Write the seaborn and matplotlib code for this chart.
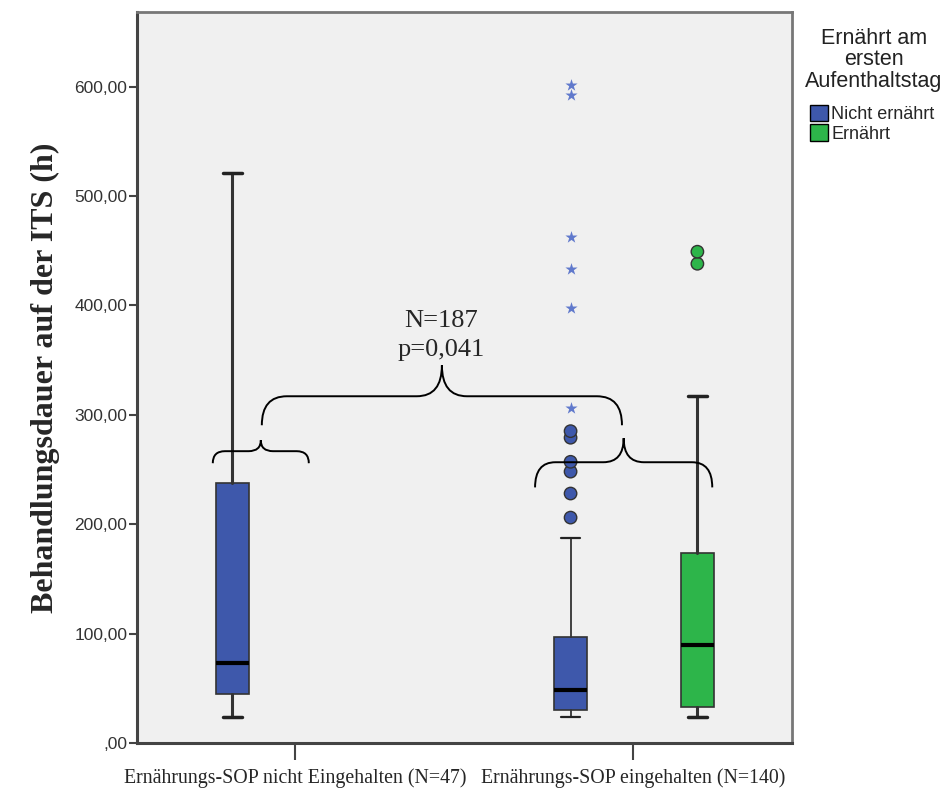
import matplotlib
matplotlib.use("Agg")
import numpy as np
import pandas as pd
import matplotlib.pyplot as plt
import seaborn as sns
from matplotlib.path import Path
from matplotlib.patches import PathPatch, Patch

# ----------------------------
# Data
# ----------------------------
groups = ["Ernährungs-SOP nicht Eingehalten (N=47)", "Ernährungs-SOP eingehalten (N=140)"]
hue_levels = ["Nicht ernährt", "Ernährt"]
legend_title = "Ernährt am\nersten\nAufenthaltstag"

# one entry per drawn box: group index, hue
box_group = [0, 1, 1]
box_hue = ["Nicht ernährt", "Nicht ernährt", "Ernährt"]
whislo = [24.0, 24.0, 24.0]
q1 = [44.5, 30.0, 33.0]
med = [73.0, 48.5, 89.5]
q3 = [237.5, 96.5, 173.5]
whishi = [521.0, 187.0, 317.0]

# outliers (circles) and extremes (stars)
out_group = [1, 1, 1, 1, 1, 1, 1, 1]
out_hue = ["Nicht ernährt"] * 6 + ["Ernährt"] * 2
out_vals = [206, 228, 248, 257, 279, 285, 438, 449]

ext_group = [1, 1, 1, 1, 1, 1]
ext_vals = [306, 398, 433, 462, 592, 601]

y_ticks = [0, 100, 200, 300, 400, 500, 600]
y_ticklabels = [",00", "100,00", "200,00", "300,00", "400,00", "500,00", "600,00"]

palette = {"Nicht ernährt": "#3e58ab", "Ernährt": "#2db54a"}
hue_offset = {"Nicht ernährt": -0.185, "Ernährt": 0.19}

# ----------------------------
# Style
# ----------------------------
sns.set_style("white", {"axes.facecolor": "#f0f0f0"})
plt.rcParams["font.family"] = ["Liberation Sans", "DejaVu Sans"]

fig = plt.figure(figsize=(9.47, 7.91), dpi=100)
ax = fig.add_axes([0.1447, 0.0607, 0.6917, 0.924])

# boxes
for i in range(len(box_group)):
    pos = box_group[i] + hue_offset[box_hue[i]]
    stats = [dict(whislo=whislo[i], q1=q1[i], med=med[i], q3=q3[i], whishi=whishi[i], fliers=[])]
    thin = box_group[i] == 1 and box_hue[i] == "Nicht ernährt"
    ax.bxp(stats, positions=[pos], widths=0.097, capwidths=0.055, patch_artist=True,
           boxprops=dict(facecolor=palette[box_hue[i]], edgecolor="#333333", linewidth=1.2),
           medianprops=dict(color="black", linewidth=3),
           whiskerprops=dict(color="#333333", linewidth=1.3 if thin else 2.2),
           capprops=dict(color="#222222", linewidth=1.6 if thin else 2.5),
           manage_ticks=False, zorder=3)

# outliers
out_df = pd.DataFrame({
    "x": [g + hue_offset[h] for g, h in zip(out_group, out_hue)],
    "y": out_vals,
    "hue": out_hue,
})
sns.scatterplot(data=out_df, x="x", y="y", hue="hue", palette=palette, s=80,
                edgecolor="#333333", linewidth=1.0, legend=False, ax=ax, zorder=4)

ext_df = pd.DataFrame({"x": [g + hue_offset["Nicht ernährt"] for g in ext_group], "y": ext_vals})
sns.scatterplot(data=ext_df, x="x", y="y", marker="*", color="#6079cc", s=85,
                linewidth=0, legend=False, ax=ax, zorder=4)


# curly braces
def brace(ax, x0, x1, y, drop, tip, r):
    xm = (x0 + x1) / 2
    verts = [(x0, y - drop), (x0, y), (x0 + r, y),
             (xm - r, y),
             (xm, y), (xm, y + tip),
             (xm, y), (xm + r, y),
             (x1 - r, y),
             (x1, y), (x1, y - drop)]
    codes = [Path.MOVETO, Path.CURVE3, Path.CURVE3,
             Path.LINETO,
             Path.CURVE3, Path.CURVE3,
             Path.CURVE3, Path.CURVE3,
             Path.LINETO,
             Path.CURVE3, Path.CURVE3]
    ax.add_patch(PathPatch(Path(verts, codes), fill=False, edgecolor="black", lw=1.4, zorder=5))


brace(ax, -0.243, 0.041, 266.7, 11, 10, 0.036)
brace(ax, 0.710, 1.234, 256.6, 23, 22, 0.06)
brace(ax, -0.098, 0.967, 316.9, 26.5, 28.3, 0.074)

ax.text(0.432, 386, "N=187", ha="center", va="center", fontsize=19, family="Liberation Serif")
ax.text(0.432, 359.5, "p=0,041", ha="center", va="center", fontsize=19, family="Liberation Serif")

# axes
ax.set_xlim(-0.467, 1.470)
ax.set_ylim(0, 668)
ax.set_xticks([0, 1])
ax.set_xticklabels(groups, fontsize=14.3, family="Liberation Serif")
ax.set_yticks(y_ticks)
ax.set_yticklabels(y_ticklabels, fontsize=12.5, color="#333333")
ax.tick_params(axis="y", length=6, width=1.5, color="#444444", pad=1, left=True)
ax.tick_params(axis="x", length=12, width=1.5, color="#444444", pad=6, bottom=True)
ax.set_xlabel("")
ax.set_ylabel("Behandlungsdauer auf der ITS (h)", fontsize=23, fontweight="bold",
              family="Liberation Serif", labelpad=10)

for side in ["left", "bottom"]:
    ax.spines[side].set_color("#444444")
    ax.spines[side].set_linewidth(2.2)
for side in ["top", "right"]:
    ax.spines[side].set_color("#777777")
    ax.spines[side].set_linewidth(2)

# legend (title as separate text, SPSS-style spacing)
fig.text(0.923, 0.965, legend_title, ha="center", va="top", fontsize=15.5,
         color="#222222", linespacing=1.05, multialignment="center")
handles = [Patch(facecolor=palette[h], edgecolor="black", label=h) for h in hue_levels]
fig.legend(handles=handles, loc="upper left", bbox_to_anchor=(0.855, 0.867), frameon=False,
           fontsize=13, handlelength=1.0, handleheight=1.0,
           handletextpad=0.2, labelspacing=0.05, borderaxespad=0, borderpad=0)

fig.savefig("out.png", dpi=100)
